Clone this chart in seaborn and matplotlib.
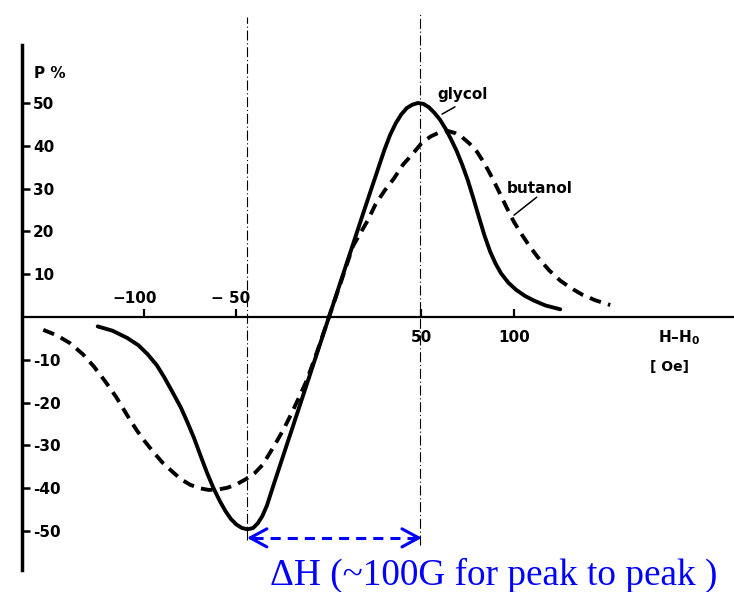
import matplotlib
matplotlib.use("Agg")
import matplotlib.pyplot as plt
import seaborn as sns
import pandas as pd

# Polarization P (%) versus field offset H - H0 (Oe)
glycol_h = [-125, -117, -109, -103, -98, -93, -89, -84.5, -80, -76.5, -73, -69.5, -66, -62.5,
            -59, -56, -53, -50, -47, -44, -41, -38.5, -36, -33.5, -30, -20, -10, 0, 10, 20,
            30, 33, 36, 39, 42, 45, 48, 51, 54, 57, 60, 63, 66, 69, 72, 75, 78, 81, 84, 87,
            90, 93, 97, 101, 106, 111, 117, 125]
glycol_p = [-2.2, -3.2, -4.9, -6.6, -8.7, -11.3, -14.1, -17.6, -21.2, -24.6, -28.2, -32.3,
            -36.3, -39.9, -43, -45.3, -47.2, -48.5, -49.3, -49.6, -49.3, -48.2, -46.5, -44,
            -39.3, -26.2, -13.1, 0, 13.1, 26.2, 39.1, 42.5, 45.2, 47.3, 48.8, 49.6, 50, 49.8,
            49, 47.7, 46.1, 44, 41.5, 38.8, 35.6, 32, 27.8, 23.4, 19.1, 15.4, 12.5, 10.2, 8.0,
            6.4, 4.9, 3.8, 2.7, 1.8]

butanol_h = [-154.4, -147, -140, -133, -127, -121, -115, -109, -104, -100, -95, -90, -85, -80,
             -75, -70, -65, -60, -55, -50, -45, -40, -36, -32, -28, -24, -20, -16, -12, -6,
             0, 6, 13, 17, 21, 25, 30, 35, 40, 45, 50, 55, 60, 64, 68, 72, 76, 80, 84, 88,
             92, 96, 100, 104, 108, 113, 119, 125, 131, 137, 144, 152]
butanol_p = [-3.0, -4.3, -6.1, -8.7, -11.6, -15.0, -18.7, -23.0, -26.4, -28.8, -31.5, -34.0,
             -36.0, -37.9, -39.2, -40.0, -40.4, -40.3, -39.9, -39.1, -37.9, -36.4, -34.6,
             -31.8, -28.9, -25.8, -22.3, -18.6, -14.8, -7.6, 0, 7.6, 16.6, 19.6, 22.6, 26.2,
             29.5, 32.3, 35.6, 38.0, 40.6, 42.2, 43.2, 43.5, 43.0, 42.0, 40.5, 38.6, 35.9,
             32.7, 29.2, 25.6, 22.2, 19.4, 16.8, 13.9, 10.9, 8.5, 6.7, 5.2, 3.9, 2.8]

x_ticks = [-100, -50, 50, 100]
y_ticks = [50, 40, 30, 20, 10, -10, -20, -30, -40, -50]
y_tick_labels = ["50", "40", "30", "20", "10", "-10", "-20", "-30", "-40", "-50"]

# glycol extrema marking the peak-to-peak width
peak_lo = -44.3
peak_hi = 49.2

sns.set_style("white")
plt.rcParams["font.family"] = ["DejaVu Sans"]
plt.rcParams["mathtext.fontset"] = "custom"
plt.rcParams["mathtext.rm"] = "DejaVu Sans:bold"
plt.rcParams["mathtext.default"] = "rm"
for key in ["text.color", "xtick.color", "ytick.color", "axes.edgecolor",
            "xtick.labelcolor", "ytick.labelcolor"]:
    plt.rcParams[key] = "black"

fig = plt.figure(figsize=(7.34, 5.92), dpi=100)
ax = fig.add_axes([0, 0, 1, 1])
ax.set_xlim(-177.8, 218.9)
ax.set_ylim(-64.25, 74.07)

df_g = pd.DataFrame({"h": glycol_h, "p": glycol_p})
df_b = pd.DataFrame({"h": butanol_h, "p": butanol_p})
sns.lineplot(data=df_g, x="h", y="p", ax=ax, color="black", lw=2.8,
             estimator=None, sort=False)
sns.lineplot(data=df_b, x="h", y="p", ax=ax, color="black", lw=2.8,
             estimator=None, sort=False)
ax.lines[0].set_solid_joinstyle("round")
ax.lines[-1].set_dashes((3.0, 1.9))
ax.lines[-1].set_dash_capstyle("butt")

# dash-dot guides through the glycol extrema
for xv, top, bot in [(peak_lo, 70.0, -52.0), (peak_hi, 71.3, -53.3)]:
    ax.plot([xv, xv], [bot, top], color="black", lw=0.8,
            linestyle=(0, (9, 2.5, 1, 2.5)))

# axes
for s in ["top", "right"]:
    ax.spines[s].set_visible(False)
ax.spines["left"].set_position(("data", -165.9))
ax.spines["left"].set_bounds(-59.1, 63.6)
ax.spines["left"].set_linewidth(2.5)
ax.spines["bottom"].set_position(("data", 0))
ax.spines["bottom"].set_bounds(-165.9, 218.9)
ax.spines["bottom"].set_linewidth(1.6)
for s in ["left", "bottom"]:
    ax.spines[s].set_color("black")

ax.set_xticks(x_ticks)
ax.set_xticklabels(["", "", "50", "100"], fontsize=11, fontweight="bold")
ax.tick_params(axis="x", bottom=True, direction="in", length=6, width=1.6, pad=9,
               color="black", labelcolor="black")
ax.set_yticks(y_ticks)
ax.set_yticklabels(y_tick_labels, fontsize=11, fontweight="bold")
ax.tick_params(axis="y", left=True, direction="in", length=5.5, width=1.8, pad=-8,
               color="black", labelcolor="black")
for lbl in ax.get_yticklabels():
    lbl.set_horizontalalignment("left")
ax.set_xlabel("")
ax.set_ylabel("")
ax.grid(False)

# negative field labels sit above the axis
ax.text(-93, 3.3, "\u2212100", ha="right", va="baseline", fontsize=11, fontweight="bold")
ax.text(-42.7, 3.3, "\u2212 50", ha="right", va="baseline", fontsize=11, fontweight="bold")

ax.text(-159.5, 57.0, "P %", ha="left", va="center", fontsize=11, fontweight="bold")
ax.text(177.8, -4.9, "H\u2013H$_0$", ha="left", va="center", fontsize=11, fontweight="bold")
ax.text(173.5, -11.7, "[ Oe]", ha="left", va="center", fontsize=10, fontweight="bold")

# curve labels with leader lines
ax.text(72.4, 51.9, "glycol", ha="center", va="center", fontsize=11, fontweight="bold")
ax.plot([68.1, 61.1], [49.1, 47.4], color="black", lw=1.1)
ax.text(114, 30.1, "butanol", ha="center", va="center", fontsize=11, fontweight="bold")
ax.plot([112.3, 100], [28.0, 23.8], color="black", lw=1.1)

# peak-to-peak width arrow
arrow_y = -51.6
ax.plot([peak_lo + 3, peak_hi - 3], [arrow_y, arrow_y], color="#0000ff", lw=2.2,
        dashes=(3.3, 2.3))
for tip, tail in [(peak_lo, peak_lo + 4), (peak_hi + 1, peak_hi - 3)]:
    ax.annotate("", xy=(tip, arrow_y), xytext=(tail, arrow_y),
                arrowprops=dict(arrowstyle="->,head_length=1.2,head_width=0.65",
                                lw=2.2, color="#0000ff", shrinkA=0, shrinkB=0))
ax.text(-31.9, -62.5, "\u0394H (~100G for peak to peak )", ha="left", va="baseline",
        fontsize=26.8, color="#0000ff", family=["Liberation Serif", "DejaVu Serif"])

fig.savefig("out.png", dpi=100, facecolor="white")
